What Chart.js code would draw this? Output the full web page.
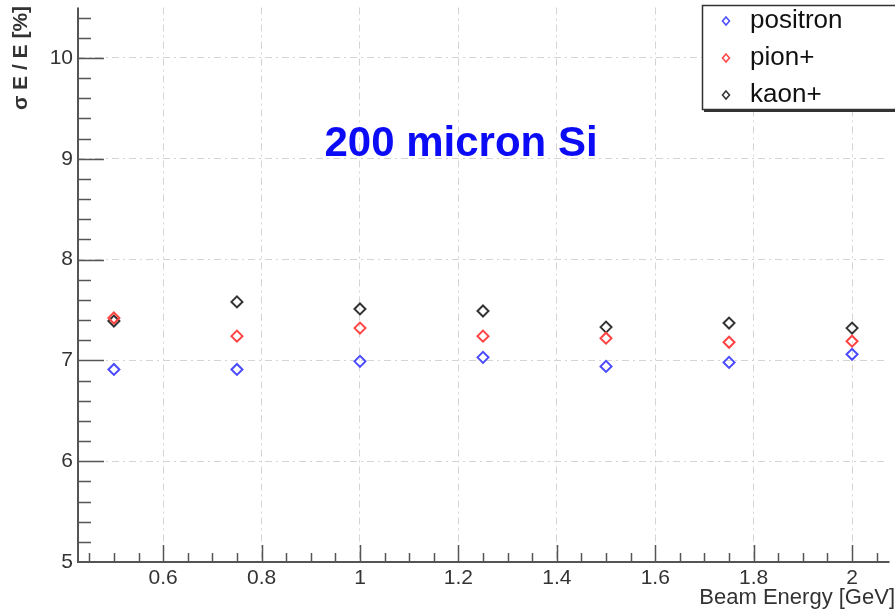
<!DOCTYPE html>
<html>
<head>
<meta charset="utf-8">
<script src="https://cdn.jsdelivr.net/npm/chart.js@4"></script>
<style>
  body { margin: 0; background: #fff; overflow: hidden; }
</style>
</head>
<body>
<canvas id="chart" width="895" height="611"></canvas>
<script>
// beam energies [GeV]
const energies = [0.5, 0.75, 1, 1.25, 1.5, 1.75, 2];
// sigma E / E [%]
const positron = [6.91, 6.91, 6.99, 7.03, 6.94, 6.98, 7.06];
const pion = [7.42, 7.24, 7.32, 7.24, 7.22, 7.18, 7.19];
const kaon = [7.39, 7.58, 7.51, 7.49, 7.33, 7.37, 7.32];
const seriesNames = ['positron', 'pion+', 'kaon+'];
const xTicks = [0.6, 0.8, 1, 1.2, 1.4, 1.6, 1.8, 2];
const yTicks = [5, 6, 7, 8, 9, 10];

const colors = ['#4a4aff', '#ff4444', '#333333'];
const axisFont = '"Liberation Sans", Arial, sans-serif';

function pts(ys) {
    return energies.map(function (e, i) { return { x: e, y: ys[i] }; });
}

// ROOT-like frame: inner ticks, axis lines, titles and legend box
const rootStyle = {
    id: 'rootStyle',
    afterDraw: function (chart) {
        const ctx = chart.ctx;
        const a = chart.chartArea;
        const xs = chart.scales.x, ys = chart.scales.y;
        ctx.save();
        ctx.strokeStyle = '#555';
        ctx.lineWidth = 1.5;
        ctx.beginPath();
        // x ticks, minor each 0.05
        for (let v = 0.45; v <= 2.06; v += 0.05) {
            const px = Math.round(xs.getPixelForValue(v)) + 0.5;
            const major = Math.abs(v / 0.2 - Math.round(v / 0.2)) < 0.01;
            ctx.moveTo(px, a.bottom);
            ctx.lineTo(px, a.bottom - (major ? 17 : 9));
        }
        // y ticks, minor each 0.2
        for (let v = 5.2; v <= 10.45; v += 0.2) {
            const py = Math.round(ys.getPixelForValue(v)) + 0.5;
            const major = Math.abs(v - Math.round(v)) < 0.01;
            ctx.moveTo(a.left, py);
            ctx.lineTo(a.left + (major ? 26 : 13), py);
        }
        ctx.stroke();

        ctx.lineWidth = 2;
        ctx.beginPath();
        ctx.moveTo(a.left, a.top);
        ctx.lineTo(a.left, a.bottom);
        ctx.lineTo(a.right + 2, a.bottom);
        ctx.stroke();

        // axis titles
        ctx.fillStyle = '#333';
        ctx.font = '22px ' + axisFont;
        ctx.textAlign = 'right';
        ctx.textBaseline = 'alphabetic';
        ctx.fillText('Beam Energy [GeV]', 895, 604);

        ctx.save();
        ctx.translate(21, 58);
        ctx.rotate(-Math.PI / 2);
        ctx.textAlign = 'center';
        ctx.textBaseline = 'middle';
        ctx.font = 'bold 21px ' + axisFont;
        ctx.fillText('\u03c3 E / E [%]', 0, 0);
        ctx.restore();

        // title
        ctx.fillStyle = '#0b0bf5';
        ctx.font = 'bold 42px "Liberation Sans", Arial, sans-serif';
        ctx.textAlign = 'center';
        ctx.textBaseline = 'middle';
        ctx.fillText('200 micron Si', 461, 144);

        // legend
        ctx.fillStyle = '#fff';
        ctx.fillRect(702, 5, 200, 105);
        ctx.strokeStyle = '#333';
        ctx.lineWidth = 1.5;
        ctx.strokeRect(702.5, 5.5, 200, 104);
        ctx.lineWidth = 2;
        ctx.beginPath();
        ctx.moveTo(704, 111);
        ctx.lineTo(895, 111);
        ctx.stroke();
        ctx.font = '26px "Liberation Sans", Arial, sans-serif';
        ctx.textAlign = 'left';
        ctx.textBaseline = 'middle';
        chart.data.datasets.forEach(function (ds, i) {
            const cy = 21 + i * 37;
            ctx.strokeStyle = ds.borderColor;
            ctx.lineWidth = 1.5;
            ctx.beginPath();
            ctx.moveTo(726, cy - 4);
            ctx.lineTo(729.5, cy);
            ctx.lineTo(726, cy + 4);
            ctx.lineTo(722.5, cy);
            ctx.closePath();
            ctx.stroke();
            ctx.fillStyle = '#111';
            ctx.fillText(ds.label, 750, cy);
        });
        ctx.restore();
    }
};

new Chart(document.getElementById('chart'), {
    type: 'scatter',
    data: {
        datasets: [
            { label: seriesNames[0], data: pts(positron), borderColor: colors[0] },
            { label: seriesNames[1], data: pts(pion), borderColor: colors[1] },
            { label: seriesNames[2], data: pts(kaon), borderColor: colors[2] }
        ].map(function (ds) {
            ds.backgroundColor = 'rgba(255,255,255,0)';
            ds.pointStyle = 'rectRot';
            ds.pointRadius = 5.5;
            ds.borderWidth = 2;
            return ds;
        })
    },
    options: {
        responsive: false,
        animation: false,
        layout: { padding: { top: 7, right: 1, left: 0, bottom: 0 } },
        plugins: { legend: { display: false }, tooltip: { enabled: false } },
        scales: {
            x: {
                type: 'linear',
                min: 0.427,
                max: 2.072,
                afterBuildTicks: function (s) { s.ticks = xTicks.map(function (v) { return { value: v }; }); },
                afterFit: function (s) { s.height = 49; s.paddingLeft = 0; s.paddingRight = 0; },
                grid: { color: '#d4d4d4', lineWidth: 1, drawTicks: false },
                border: { display: false, dash: [7, 4, 2, 4] },
                ticks: {
                    padding: 4,
                    color: '#333',
                    font: { family: axisFont, size: 21 },
                    maxRotation: 0,
                    autoSkip: false,
                    callback: function (v) { return String(v); }
                }
            },
            y: {
                min: 5,
                max: 10.5,
                afterBuildTicks: function (s) { s.ticks = yTicks.map(function (v) { return { value: v }; }); },
                afterFit: function (s) { s.width = 78; s.paddingTop = 0; s.paddingBottom = 0; },
                grid: { color: '#d4d4d4', lineWidth: 1, drawTicks: false },
                border: { display: false, dash: [7, 4, 2, 4] },
                ticks: {
                    padding: 5,
                    color: '#333',
                    font: { family: axisFont, size: 21 },
                    autoSkip: false
                }
            }
        }
    },
    plugins: [rootStyle]
});
</script>
</body>
</html>
